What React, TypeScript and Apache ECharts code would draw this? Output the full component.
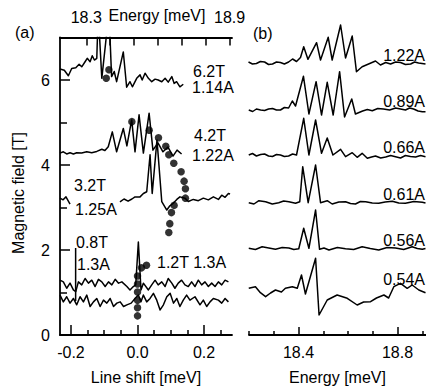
import React, { useEffect, useRef } from "react";
import * as echarts from "echarts";

const FONT = '"Liberation Sans", Arial, Helvetica, sans-serif';

// ---------- Panel (a): spectra [energy meV, field T offset] ----------
const trace62T: number[][] = [
  [18.19, 6.26], [18.208, 6.23], [18.225, 6.1], [18.239, 6.27], [18.256, 6.29], [18.27, 6.37],
  [18.281, 6.31], [18.295, 6.43], [18.304, 6.51], [18.316, 6.43], [18.325, 6.57], [18.334, 6.47],
  [18.344, 6.51], [18.35, 7.6], [18.365, 6.04], [18.395, 7.6], [18.406, 6.08], [18.417, 6.2],
  [18.427, 5.96], [18.455, 6.66], [18.469, 5.83], [18.483, 5.96], [18.493, 5.84], [18.511, 6.04],
  [18.525, 6.12], [18.534, 6.0], [18.546, 6.16], [18.56, 6.04], [18.574, 5.96], [18.588, 6.02],
  [18.601, 6.0], [18.616, 5.96], [18.63, 6.04], [18.643, 5.95], [18.658, 6.08], [18.668, 5.92],
  [18.678, 5.96], [18.692, 5.84], [18.706, 5.9],
];
const trace42T: number[][] = [
  [18.19, 4.28], [18.204, 4.31], [18.218, 4.26], [18.232, 4.29], [18.246, 4.26], [18.26, 4.29],
  [18.281, 4.28], [18.302, 4.31], [18.323, 4.29], [18.344, 4.32], [18.365, 4.37], [18.378, 4.34],
  [18.392, 4.43], [18.409, 4.78], [18.427, 4.31], [18.455, 4.86], [18.47, 4.45], [18.49, 5.06],
  [18.504, 4.31], [18.521, 5.18], [18.539, 4.28], [18.563, 5.22], [18.579, 4.35], [18.6, 4.52],
  [18.621, 4.31], [18.642, 4.42], [18.663, 4.21], [18.68, 4.35], [18.699, 4.26],
];
const trace32T: (number[] | null)[] = [
  [18.19, 3.22], [18.203, 3.18], [18.215, 3.25], [18.232, 3.08], null,
  [18.441, 3.13], [18.458, 3.2], [18.475, 3.15], [18.491, 3.2], [18.504, 3.25], [18.525, 3.25],
  [18.539, 3.33], [18.553, 3.37], [18.567, 4.24], [18.576, 3.33], [18.596, 4.59], [18.616, 3.14],
  [18.637, 2.94], [18.65, 3.04], [18.664, 3.1], [18.679, 3.19], [18.692, 3.25], [18.713, 3.22],
  [18.727, 3.14], [18.748, 3.19], [18.769, 3.16], [18.79, 3.22], [18.811, 3.18], [18.832, 3.25],
  [18.853, 3.19], [18.867, 3.29], [18.881, 3.24], [18.895, 3.33], [18.902, 3.32],
];
const trace12T: number[][] = [
  [18.19, 1.29], [18.204, 1.25], [18.218, 1.1], [18.232, 1.22], [18.246, 1.06], [18.256, 1.02],
  [18.267, 1.25], [18.281, 1.18], [18.295, 1.33], [18.309, 1.22], [18.323, 1.29], [18.337, 1.14],
  [18.351, 1.31], [18.365, 1.25], [18.379, 1.14], [18.393, 1.25], [18.407, 1.18], [18.421, 1.31],
  [18.435, 1.22], [18.449, 1.25], [18.47, 1.14], [18.483, 1.06], [18.497, 1.14], [18.507, 1.18],
  [18.518, 2.19], [18.529, 1.06], [18.539, 1.22], [18.56, 1.06], [18.574, 1.18], [18.588, 1.29],
  [18.601, 1.18], [18.616, 1.25], [18.63, 1.14], [18.643, 1.33], [18.658, 1.22], [18.671, 1.1],
  [18.685, 1.22], [18.699, 1.29], [18.713, 1.18], [18.727, 1.14], [18.741, 1.25], [18.755, 1.14],
  [18.769, 1.29], [18.783, 1.18], [18.797, 1.25], [18.811, 1.14], [18.825, 1.22], [18.839, 1.14],
  [18.853, 1.25], [18.867, 1.18], [18.881, 1.29], [18.895, 1.25],
];
const trace08T: number[][] = [
  [18.19, 0.94], [18.204, 0.78], [18.218, 0.9], [18.232, 0.75], [18.246, 0.86], [18.26, 0.71],
  [18.274, 0.9], [18.288, 0.78], [18.302, 0.94], [18.316, 0.67], [18.33, 0.78], [18.344, 0.86],
  [18.358, 0.67], [18.372, 0.82], [18.386, 0.75], [18.4, 0.86], [18.414, 0.67], [18.428, 0.75],
  [18.442, 0.78], [18.456, 0.67], [18.47, 0.71], [18.488, 0.75], [18.504, 0.86], [18.518, 0.94],
  [18.529, 0.78], [18.539, 0.94], [18.553, 0.78], [18.567, 0.86], [18.581, 0.98], [18.595, 0.82],
  [18.609, 0.59], [18.623, 0.71], [18.637, 0.9], [18.651, 0.98], [18.665, 0.75], [18.679, 0.86],
  [18.692, 0.67], [18.706, 0.82], [18.72, 0.94], [18.734, 0.82], [18.755, 0.9], [18.776, 0.71],
  [18.79, 0.82], [18.804, 0.67], [18.818, 0.78], [18.832, 0.86], [18.853, 0.82], [18.867, 0.75],
  [18.881, 0.86], [18.895, 0.78],
];
// dots: [line shift meV, field T]
const shiftDots: number[][] = [
  [-0.094, 6.04], [-0.086, 6.24],
  [-0.017, 5.02], [0.035, 4.82], [0.063, 4.64], [0.085, 4.44], [0.094, 4.24], [0.109, 4.04],
  [0.131, 3.84], [0.14, 3.62], [0.144, 3.44], [0.144, 3.22], [0.11, 3.05], [0.102, 2.88],
  [0.097, 2.62], [0.094, 2.41],
  [0.027, 1.64], [0.012, 1.58], [0.0, 1.39], [0.0, 1.2], [0.0, 1.01], [0.0, 0.82], [0.0, 0.64],
  [0.0, 0.45],
];
const pointer08T: number[][] = [[-0.186, 2.05], [-0.186, 0.8]];

const shiftMajor = [-0.2, 0, 0.2];
const shiftMinor = [-0.15, -0.1, -0.05, 0.05, 0.1, 0.15, 0.25];
const fieldMajor = [2, 4, 6];
const fieldLabels = [0, 2, 4, 6];
const fieldMinor = [1, 3, 5];
const topEnergyTicks = [18.3, 18.4, 18.5, 18.6, 18.7, 18.8, 18.9];
const topEnergyLabels = [18.3, 18.9];

// ---------- Panel (b): spectra [energy meV, intensity a.u.] ----------
const b122A: number[][] = [
  [18.198, 273], [18.214, 271], [18.23, 271.5], [18.246, 273.5], [18.263, 273], [18.279, 270.5],
  [18.295, 271], [18.311, 273], [18.327, 272.5], [18.343, 271], [18.36, 273],
  [18.376, 276], [18.392, 273.5], [18.408, 277.5], [18.421, 288.3], [18.438, 275.7], [18.473, 292.3],
  [18.489, 275], [18.52, 297.7], [18.536, 275], [18.57, 310], [18.59, 277], [18.617, 299],
  [18.634, 263.3], [18.657, 268.3], [18.683, 271], [18.711, 274], [18.731, 270], [18.752, 272.5],
  [18.772, 271], [18.792, 273], [18.812, 272.5], [18.832, 270.5], [18.853, 271], [18.869, 273],
  [18.885, 272], [18.913, 271],
];
const b089A: number[][] = [
  [18.199, 225], [18.215, 223.5], [18.23, 226], [18.247, 225], [18.263, 224.5], [18.279, 226],
  [18.295, 226.5], [18.311, 225], [18.327, 225], [18.343, 227.5], [18.36, 227],
  [18.375, 234], [18.388, 229], [18.42, 258.7], [18.442, 221], [18.471, 253.3], [18.493, 220],
  [18.516, 252.7], [18.54, 220], [18.566, 263.3], [18.586, 218], [18.615, 236], [18.63, 221],
  [18.659, 224], [18.678, 225.5], [18.698, 224.3], [18.72, 226.5], [18.743, 226], [18.768, 225],
  [18.792, 227], [18.812, 226], [18.832, 225], [18.849, 227], [18.865, 226], [18.883, 224],
  [18.9, 223.3], [18.913, 223.3],
];
const b066A: number[][] = [
  [18.199, 180], [18.214, 181.5], [18.23, 179], [18.247, 180.5], [18.263, 181], [18.279, 179],
  [18.295, 178.5], [18.311, 180.5], [18.327, 180], [18.343, 178.5], [18.36, 179], [18.376, 181],
  [18.392, 180], [18.421, 216.7], [18.442, 180], [18.469, 215], [18.493, 181.7], [18.516, 197],
  [18.539, 180], [18.57, 185.7], [18.59, 178.3], [18.617, 182.3], [18.637, 177.7], [18.657, 181.7],
  [18.678, 176.7], [18.695, 178], [18.711, 179], [18.732, 177], [18.752, 178], [18.772, 179.5],
  [18.792, 178.3], [18.812, 177], [18.832, 179.5], [18.852, 178.5], [18.873, 178], [18.893, 179.5],
  [18.913, 178.3],
];
const b061A: number[][] = [
  [18.199, 132.3], [18.22, 131], [18.24, 134.3], [18.267, 133.3], [18.294, 131], [18.32, 132.3],
  [18.34, 134], [18.361, 133.3], [18.388, 131.7], [18.405, 133.3], [18.417, 168.3], [18.439, 132.3],
  [18.469, 170], [18.489, 132.3], [18.516, 134.3], [18.536, 131], [18.563, 133], [18.59, 133.3],
  [18.61, 131.5], [18.63, 131], [18.65, 133.5], [18.671, 133.3], [18.698, 132], [18.724, 131.7],
  [18.75, 133], [18.779, 133.7], [18.805, 132], [18.832, 131.7], [18.866, 133.5], [18.9, 132.7],
  [18.913, 132],
];
const b056A: number[][] = [
  [18.199, 86.7], [18.226, 85.5], [18.253, 88.3], [18.28, 87], [18.307, 85.7], [18.334, 87.5],
  [18.361, 87], [18.381, 85.5], [18.401, 86.3], [18.421, 106.7],
  [18.442, 86.7], [18.469, 125], [18.485, 85.7], [18.503, 87], [18.523, 85], [18.557, 87.5],
  [18.59, 86.3], [18.623, 85.5], [18.657, 88.3], [18.69, 86.5], [18.724, 85], [18.758, 87.5],
  [18.792, 87], [18.825, 85.5], [18.859, 88.3], [18.88, 86.5], [18.9, 85.7], [18.913, 86.5],
];
const b054A: number[][] = [
  [18.199, 46.7], [18.226, 48.3], [18.246, 42.3], [18.267, 38.3], [18.287, 42], [18.307, 45],
  [18.331, 43], [18.347, 46.7], [18.375, 48.3], [18.395, 46.7], [18.412, 60], [18.428, 41],
  [18.469, 76.7], [18.483, 20], [18.516, 35], [18.556, 40], [18.597, 36.7], [18.637, 30],
  [18.663, 33], [18.691, 33.3], [18.715, 37], [18.745, 40], [18.764, 37], [18.785, 48.3],
  [18.812, 51.7], [18.839, 46.7], [18.859, 50], [18.886, 45], [18.913, 42.3],
];
const bEnergyMinor = [18.2, 18.3, 18.5, 18.6, 18.7, 18.9];
const bEnergyMajor = [18.4, 18.8];
const bCurrents = ["1.22A", "0.89A", "0.66A", "0.61A", "0.56A", "0.54A"];

const BLACK = "#000";

function txt(text: string, x: number, y: number, align = "left", extra: any = {}) {
  return {
    type: "text",
    x,
    y,
    z: 100,
    ...extra,
    style: {
      text,
      font: `16px ${FONT}`,
      fill: BLACK,
      align,
      verticalAlign: "middle",
      textAlign: align,
      textVerticalAlign: "middle",
    },
  };
}

export default function App() {
  const ref = useRef<HTMLDivElement>(null);
  useEffect(() => {
    if (!ref.current) return;
    const chart = echarts.init(ref.current, undefined, { renderer: "svg" });
    const axisLine = { show: true, onZero: false, lineStyle: { color: BLACK, width: 1.8 } };
    const noLine = { show: false, onZero: false };
    const labelStyle = { color: BLACK, fontSize: 16, fontFamily: FONT };
    const lineSeries = (data: any[], xi: number, yi: number) => ({
      type: "line",
      data,
      xAxisIndex: xi,
      yAxisIndex: yi,
      showSymbol: false,
      symbol: "none",
      clip: true,
      connectNulls: false,
      lineStyle: { color: BLACK, width: 1.5, join: "round" },
      z: 3,
    });
    const bTraces = [b122A, b089A, b066A, b061A, b056A, b054A];
    const labelY = [55, 101, 147, 194, 240, 279];

    chart.setOption({
      animation: false,
      backgroundColor: "#fff",
      textStyle: { fontFamily: FONT },
      grid: [
        { left: 60, top: 37.5, width: 172, bottom: 56 },
        { left: 249, top: 0, width: 177, bottom: 56 },
      ],
      xAxis: [
        {
          gridIndex: 0, type: "value", position: "bottom", min: -0.233, max: 0.284,
          axisLine, splitLine: { show: false },
          axisTick: { inside: true, length: 10, customValues: shiftMajor, lineStyle: { color: BLACK, width: 1.5 } },
          axisLabel: { ...labelStyle, margin: 9, customValues: shiftMajor, formatter: (v: number) => v.toFixed(1) },
          name: "Line shift [meV]", nameLocation: "middle", nameGap: 34,
          nameTextStyle: labelStyle,
        },
        {
          gridIndex: 0, type: "value", position: "bottom", min: -0.233, max: 0.284,
          axisLine: noLine, splitLine: { show: false }, axisLabel: { show: false },
          axisTick: { inside: true, length: 5, customValues: shiftMinor, lineStyle: { color: BLACK, width: 1.5 } },
        },
        {
          gridIndex: 0, type: "value", position: "top", min: 18.19, max: 18.91,
          axisLine, splitLine: { show: false },
          axisTick: { inside: true, length: 8, customValues: topEnergyTicks, lineStyle: { color: BLACK, width: 1.5 } },
          axisLabel: { ...labelStyle, margin: 12, customValues: topEnergyLabels, formatter: (v: number) => v.toFixed(1) },
        },
        {
          gridIndex: 1, type: "value", position: "bottom", min: 18.2, max: 18.915,
          axisLine, splitLine: { show: false }, axisLabel: { show: false },
          axisTick: { inside: true, length: 4, customValues: bEnergyMinor, lineStyle: { color: BLACK, width: 1.5 } },
        },
        {
          gridIndex: 1, type: "value", position: "bottom", min: 18.2, max: 18.915,
          axisLine: noLine, splitLine: { show: false },
          axisTick: { inside: true, length: 8, customValues: bEnergyMajor, lineStyle: { color: BLACK, width: 1.5 } },
          axisLabel: { ...labelStyle, margin: 9, customValues: bEnergyMajor, formatter: (v: number) => v.toFixed(1) },
          name: "Energy [meV]", nameLocation: "middle", nameGap: 34,
          nameTextStyle: labelStyle,
        },
      ],
      yAxis: [
        {
          gridIndex: 0, type: "value", position: "left", min: 0, max: 7,
          axisLine, splitLine: { show: false },
          axisTick: { inside: true, length: 10, customValues: fieldMajor, lineStyle: { color: BLACK, width: 1.5 } },
          axisLabel: { ...labelStyle, margin: 10, customValues: fieldLabels },
        },
        {
          gridIndex: 0, type: "value", position: "left", min: 0, max: 7,
          axisLine: noLine, splitLine: { show: false }, axisLabel: { show: false },
          axisTick: { inside: true, length: 7, customValues: fieldMinor, lineStyle: { color: BLACK, width: 1.5 } },
        },
        { gridIndex: 1, type: "value", show: false, min: 0, max: 335, axisLine: noLine },
      ],
      series: [
        lineSeries(trace62T, 2, 0),
        lineSeries(trace42T, 2, 0),
        lineSeries(trace32T, 2, 0),
        lineSeries(trace12T, 2, 0),
        lineSeries(trace08T, 2, 0),
        lineSeries(pointer08T, 0, 0),
        {
          type: "scatter", data: shiftDots, xAxisIndex: 0, yAxisIndex: 0,
          symbol: "circle", symbolSize: 7.5, itemStyle: { color: BLACK }, z: 5,
        },
        ...bTraces.map((d) => lineSeries(d, 3, 2)),
      ],
      graphic: [
        txt("Energy [meV]", 157, 15, "center"),
        txt("(a)", 15, 32),
        txt("(b)", 253, 33),
        {
          type: "text", x: 18, y: 193, rotation: Math.PI / 2, z: 100,
          style: { text: "Magnetic field [T]", font: `16px ${FONT}`, fill: BLACK, align: "center", verticalAlign: "middle", textAlign: "center", textVerticalAlign: "middle" },
        },
        txt("6.2T", 193, 71),
        txt("1.14A", 192, 87),
        txt("4.2T", 194, 135),
        txt("1.22A", 192, 155),
        txt("3.2T", 74, 185),
        txt("1.25A", 75, 209),
        txt("0.8T", 76, 242),
        txt("1.3A", 77, 264),
        txt("1.2T 1.3A", 157, 262),
        ...bCurrents.map((c, i) => txt(c, 425, labelY[i], "right")),
      ],
    });
    return () => chart.dispose();
  }, []);
  return <div ref={ref} style={{ width: 426, height: 391, position: "absolute", left: 0, top: 0 }} />;
}
